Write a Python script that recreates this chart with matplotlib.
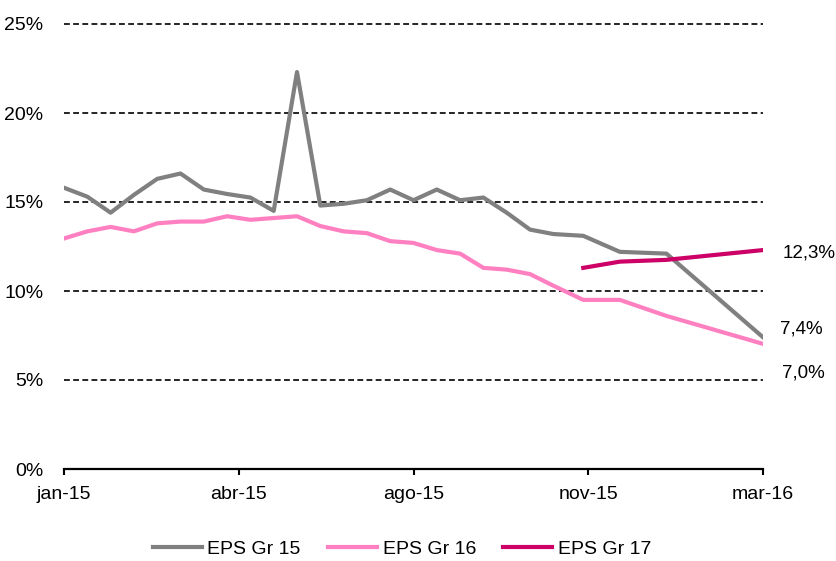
import numpy as np
import pandas as pd
import matplotlib
matplotlib.use('Agg')
import matplotlib.pyplot as plt

plt.rcParams['font.family'] = ['Liberation Sans', 'DejaVu Sans']
plt.rcParams['font.size'] = 14

# datos (fechas de la serie, %)
fechas = ['2015-01-08', '2015-01-22', '2015-02-05', '2015-02-19', '2015-03-05',
          '2015-03-19', '2015-04-02', '2015-04-16', '2015-04-30', '2015-05-14',
          '2015-05-28', '2015-06-11', '2015-06-25', '2015-07-09', '2015-07-23',
          '2015-08-06', '2015-08-20', '2015-09-03', '2015-09-17', '2015-10-01',
          '2015-10-15', '2015-10-29', '2015-11-16', '2015-12-08', '2016-01-05',
          '2016-03-03']
eps_gr15 = [15.8, 15.3, 14.4, 15.4, 16.3, 16.6, 15.7, 15.45, 15.25, 14.5,
            22.3, 14.8, 14.9, 15.1, 15.7, 15.1, 15.7, 15.1, 15.25, 14.4,
            13.45, 13.2, 13.1, 12.2, 12.1, 7.4]
eps_gr16 = [12.95, 13.35, 13.6, 13.35, 13.8, 13.9, 13.9, 14.2, 14.0, 14.1,
            14.2, 13.65, 13.35, 13.25, 12.8, 12.7, 12.3, 12.1, 11.3, 11.2,
            10.95, 10.3, 9.5, 9.5, 8.6, 7.03]
eps_gr17 = [11.3, 11.65, 11.75, 12.3]
inicio_gr17 = 22
tick_labels = ['jan-15', 'abr-15', 'ago-15', 'nov-15', 'mar-16']
y_ticks = [0, 5, 10, 15, 20, 25]

fechas = pd.to_datetime(fechas)
fechas_gr17 = fechas[inicio_gr17:]

fig = plt.figure(figsize=(8.37, 5.61), dpi=100)
ax = fig.add_axes([64 / 837, 1 - 469 / 561, (763 - 64) / 837, (469 - 24) / 561])

ax.plot(fechas, eps_gr15, color='#808080', lw=3, label='EPS Gr 15', zorder=3)
ax.plot(fechas, eps_gr16, color='#FF80C0', lw=3, label='EPS Gr 16', zorder=3)
ax.plot(fechas_gr17, eps_gr17, color='#CC0066', lw=3, label='EPS Gr 17', zorder=4)

# ejes
ax.set_ylim(0, 25)
ax.set_yticks(y_ticks)
ax.set_yticklabels([f'{v}%' for v in y_ticks])
ax.set_xlim(fechas[0], fechas[-1])
ticks_x = [fechas[0] + pd.Timedelta(days=105 * k) for k in range(len(tick_labels))]
ax.set_xticks(ticks_x)
ax.set_xticklabels(tick_labels)

ax.yaxis.grid(True, color='black', linestyle=(0, (3.5, 2)), lw=1.2)
for l in ax.get_ygridlines():
    l.set_clip_on(False)
ax.set_axisbelow(True)
for s in ['top', 'right', 'left']:
    ax.spines[s].set_visible(False)
ax.spines['bottom'].set_linewidth(1.6)
ax.spines['bottom'].set_zorder(5)
ax.tick_params(axis='y', length=0, pad=15)
ax.tick_params(axis='x', direction='out', length=4.5, width=1.5, pad=8)

# etiquetas finales
def fmt(v):
    return f'{v:.1f}'.replace('.', ',') + '%'

ax.annotate(fmt(eps_gr17[-1]), xy=(fechas_gr17[-1], eps_gr17[-1]), xytext=(20, -3),
            textcoords='offset pixels', ha='left', va='center', fontsize=13.5,
            annotation_clip=False)
ax.annotate(fmt(eps_gr15[-1]), xy=(fechas[-1], eps_gr15[-1]), xytext=(17, 8),
            textcoords='offset pixels', ha='left', va='center', fontsize=13.5,
            annotation_clip=False)
ax.annotate(fmt(eps_gr16[-1]), xy=(fechas[-1], eps_gr16[-1]), xytext=(19, -29),
            textcoords='offset pixels', ha='left', va='center', fontsize=13.5,
            annotation_clip=False)

fig.legend(loc='center', bbox_to_anchor=(402 / 837, 1 - 549 / 561), ncol=3,
           frameon=False, handlelength=2.5, handletextpad=0.3, columnspacing=1.4)

fig.savefig('out.png', dpi=100)
